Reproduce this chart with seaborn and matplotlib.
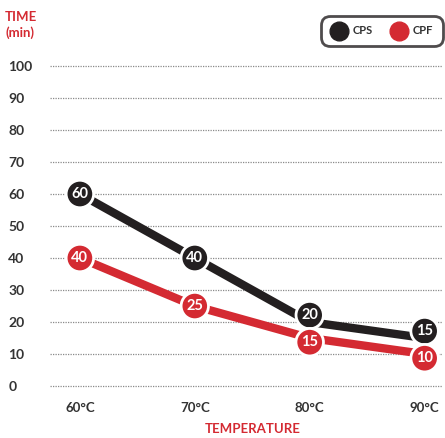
import pandas as pd
import seaborn as sns
import matplotlib.pyplot as plt
from matplotlib import font_manager
from matplotlib.lines import Line2D

temps = [60, 70, 80, 90]
temp_labels = ['60°C', '70°C', '80°C', '90°C']
cps = [60, 40, 20, 15]
cpf = [40, 25, 15, 10]
y_ticks = [0, 10, 20, 30, 40, 50, 60, 70, 80, 90, 100]

black = '#231f20'
red = '#d42a32'

df = pd.DataFrame({
    'temp': temps * 2,
    'time': cps + cpf,
    'series': ['CPS'] * len(temps) + ['CPF'] * len(temps),
})

sns.set_theme(style='white')

# use Lato if a bold face exists, otherwise another family that has one
family = 'DejaVu Sans'
for fam in ['Lato', 'Open Sans', 'Noto Sans']:
    path = font_manager.findfont(font_manager.FontProperties(family=fam, weight='bold'),
                                 fallback_to_default=False)
    if 'bold' in path.lower() or 'black' in path.lower():
        family = fam
        break
plt.rcParams['font.family'] = [family, 'DejaVu Sans']

fig = plt.figure(figsize=(4.45, 4.38), dpi=100)
ax = fig.add_axes([50 / 445, 0.104, 393 / 445, 0.760])

sns.lineplot(data=df, x='temp', y='time', hue='series',
             palette={'CPS': black, 'CPF': red}, linewidth=6,
             legend=False, ax=ax, zorder=3)

# round value badges; the two series are pushed apart a little where they crowd
def badges(values, color, nudge):
    for x, v in zip(temps, values):
        dy = nudge if x >= 80 else 0
        ax.annotate(str(v), (x, v), xytext=(0, dy), textcoords='offset points',
                    color='white', fontsize=10.5, fontweight='bold',
                    ha='center', va='center', zorder=5,
                    bbox=dict(boxstyle='circle,pad=0.36', fc=color,
                              ec='white', lw=2))

badges(cps, black, 5)
badges(cpf, red, -3)

ax.set_xlim(57.4, 91.6)
ax.set_ylim(-2, 102)
ax.set_xticks(temps)
ax.set_xticklabels(temp_labels)
ax.set_yticks(y_ticks)
ax.set_yticklabels([str(t) for t in y_ticks])
for lbl in ax.get_yticklabels():
    lbl.set_horizontalalignment('left')
ax.tick_params(axis='y', length=0, pad=30, labelsize=10, labelcolor='#333333')
ax.tick_params(axis='x', length=0, pad=7, labelsize=9.5, labelcolor='#333333')
for lbl in ax.get_xticklabels() + ax.get_yticklabels():
    lbl.set_fontweight('bold')

ax.grid(False)
for t in y_ticks:
    ax.axhline(t, color='#8a8a8a', linewidth=0.9, linestyle=(0, (1, 1)), zorder=1)

for s in ax.spines.values():
    s.set_visible(False)
ax.set_xlabel('')
ax.set_ylabel('')

fig.text(5 / 445, 1 - 17 / 438, 'TIME', color=red, fontsize=9.5,
         fontweight='bold', ha='left', va='center')
fig.text(5 / 445, 1 - 33 / 438, '(min)', color=red, fontsize=9.5,
         fontweight='bold', ha='left', va='center')
fig.text(253 / 445, 1 - 429 / 438, 'TEMPERATURE', color=red, fontsize=9.5,
         fontweight='bold', ha='center', va='center')

handles = [
    Line2D([], [], linestyle='none', marker='o', markersize=13.5,
           markerfacecolor=black, markeredgecolor=black),
    Line2D([], [], linestyle='none', marker='o', markersize=13.5,
           markerfacecolor=red, markeredgecolor=red),
]
leg = fig.legend(handles, ['CPS', 'CPF'], ncol=2, loc='center',
                 bbox_to_anchor=(382 / 445, 1 - 31 / 438), frameon=True,
                 fontsize=8, handletextpad=0.5, columnspacing=1.6,
                 handlelength=1.5, borderpad=0.65, fancybox=True)
frame = leg.get_frame()
frame.set_edgecolor(black)
frame.set_linewidth(2)
frame.set_boxstyle('round,pad=0.2,rounding_size=0.8')
for t in leg.get_texts():
    t.set_fontweight('bold')
    t.set_color('#333333')

fig.savefig('out.png', dpi=100)
